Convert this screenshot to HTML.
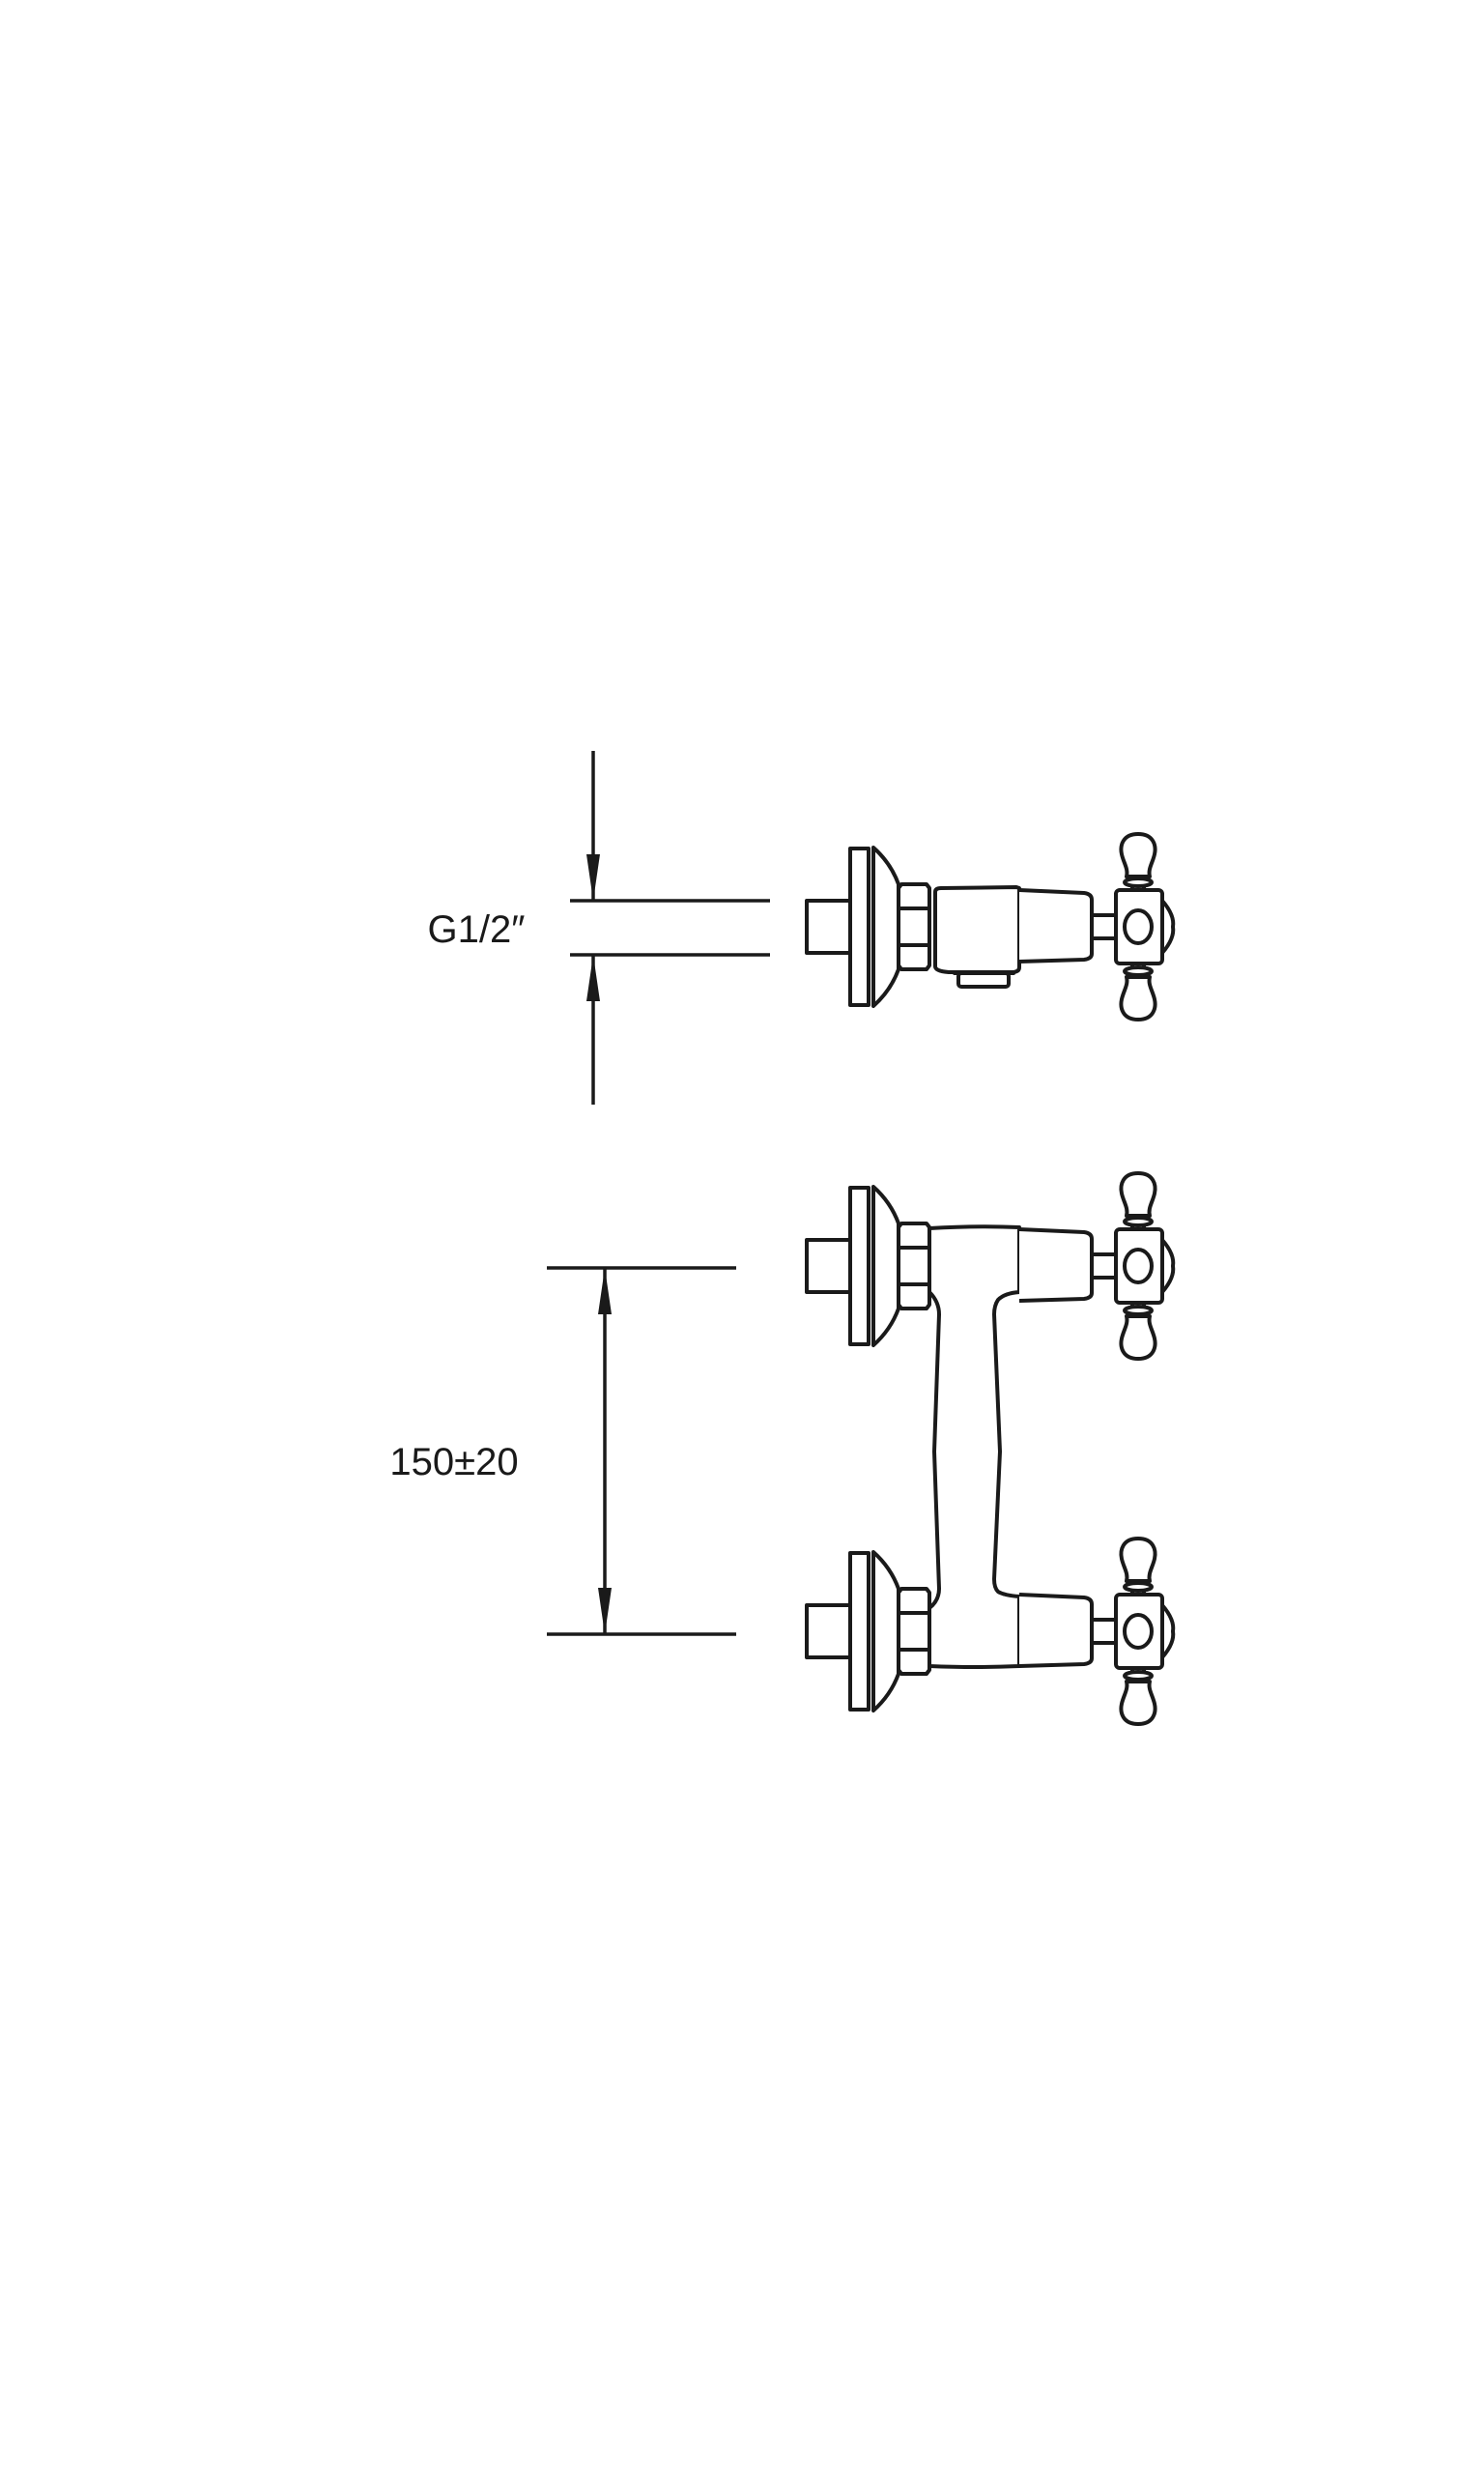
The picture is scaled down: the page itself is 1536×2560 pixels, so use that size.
<!DOCTYPE html>
<html><head><meta charset="utf-8"><style>
html,body{margin:0;padding:0;background:#fff}
svg{display:block}
text{font-family:"Liberation Sans",sans-serif;fill:#1a1a1a}
</style></head><body>
<svg width="1536" height="2560" viewBox="0 0 1536 2560" xmlns="http://www.w3.org/2000/svg">
<defs>
<g id="unit" fill="#fff" stroke="#1a1a1a" stroke-width="4" stroke-linejoin="round">
  <rect x="843" y="-27" width="45" height="54"/>
  <path d="M912,-82 Q930,-66 938,-44 L938,44 Q930,66 912,82 Z"/>
  <rect x="888" y="-81" width="19" height="162"/>
  <path d="M941,-44 L967,-44 L970,-40 L970,40 L967,44 L941,44 L938,40 L938,-40 Z"/>
  <path d="M938,-19 L970,-19 M938,19 L970,19" fill="none"/>
  <path d="M1063,-38 L1130,-35 Q1138,-34 1138,-28 L1138,28 Q1138,33 1130,34 L1063,36"/>
  <rect x="1138" y="-12" width="25" height="24"/>
  <path d="M1211,-27 Q1224,-12 1222,0 Q1224,12 1211,27 Z"/>
  <rect x="1180" y="-48" width="12" height="12"/>
  <rect x="1180" y="36" width="12" height="12"/>
  <ellipse cx="1186" cy="-46" rx="14" ry="4"/>
  <ellipse cx="1186" cy="46" rx="14" ry="4"/>
  <path d="M1186,-96 C1170,-96 1167,-84 1169,-75 C1171,-66 1176,-60 1174,-52 L1198,-52 C1196,-60 1201,-66 1203,-75 C1205,-84 1202,-96 1186,-96 Z"/>
  <path d="M1186,96 C1170,96 1167,84 1169,75 C1171,66 1176,60 1174,52 L1198,52 C1196,60 1201,66 1203,75 C1205,84 1202,96 1186,96 Z"/>
  <rect x="1163" y="-38" width="48" height="76" rx="4"/>
  <ellipse cx="1186" cy="0" rx="14" ry="17"/>
</g>
</defs>

<!-- Top view dimension -->
<g stroke="#1a1a1a" stroke-width="3.5" fill="none">
  <line x1="614" y1="777" x2="614" y2="932"/>
  <line x1="614" y1="988" x2="614" y2="1143"/>
  <line x1="590" y1="932" x2="797" y2="932"/>
  <line x1="590" y1="988" x2="797" y2="988"/>
</g>
<path d="M607,884 L621,884 L614,932 Z M607,1036 L621,1036 L614,988 Z" fill="#1a1a1a"/>
<text x="493" y="975" font-size="40" text-anchor="middle">G1/2″</text>

<!-- Bottom view dimension -->
<g stroke="#1a1a1a" stroke-width="3.5" fill="none">
  <line x1="566" y1="1312" x2="762" y2="1312"/>
  <line x1="566" y1="1691" x2="762" y2="1691"/>
  <line x1="626" y1="1312" x2="626" y2="1691"/>
</g>
<path d="M619,1360 L633,1360 L626,1312 Z M619,1643 L633,1643 L626,1691 Z" fill="#1a1a1a"/>
<text x="470" y="1526" font-size="40" text-anchor="middle">150±20</text>

<!-- Top view faucet -->
<g transform="translate(-8,959)">
  <g fill="#fff" stroke="#1a1a1a" stroke-width="4" stroke-linejoin="round">
    <path d="M996,40 L1057,40 L1057,48 L996,48 Z"/>
    <rect x="1000" y="48" width="52" height="14" rx="3"/>
    <path d="M976,-36 Q976,-40 982,-40 L1060,-41 L1063,-40 L1063,42 Q1063,47 1055,47 L990,47 Q976,46 976,41 Z"/>
  </g>
  <use href="#unit"/>
</g>

<!-- Bottom view faucet -->
<g transform="translate(-8,0)">
  <path d="M970,1271 Q1020,1268 1063,1270 L1063,1337 Q1048,1338 1041,1345 Q1037,1351 1037,1360 L1043,1502 L1037,1634 Q1037,1643 1041,1647 Q1048,1651 1063,1652 L1063,1724 Q1020,1726 970,1724 L970,1664 Q980,1656 980,1644 L975,1502 L980,1360 Q980,1347 970,1337 Z" fill="#fff" stroke="#1a1a1a" stroke-width="4" stroke-linejoin="round"/>
  <g transform="translate(0,1310)"><use href="#unit"/></g>
  <g transform="translate(0,1688)"><use href="#unit"/></g>
</g>
</svg>
</body></html>
